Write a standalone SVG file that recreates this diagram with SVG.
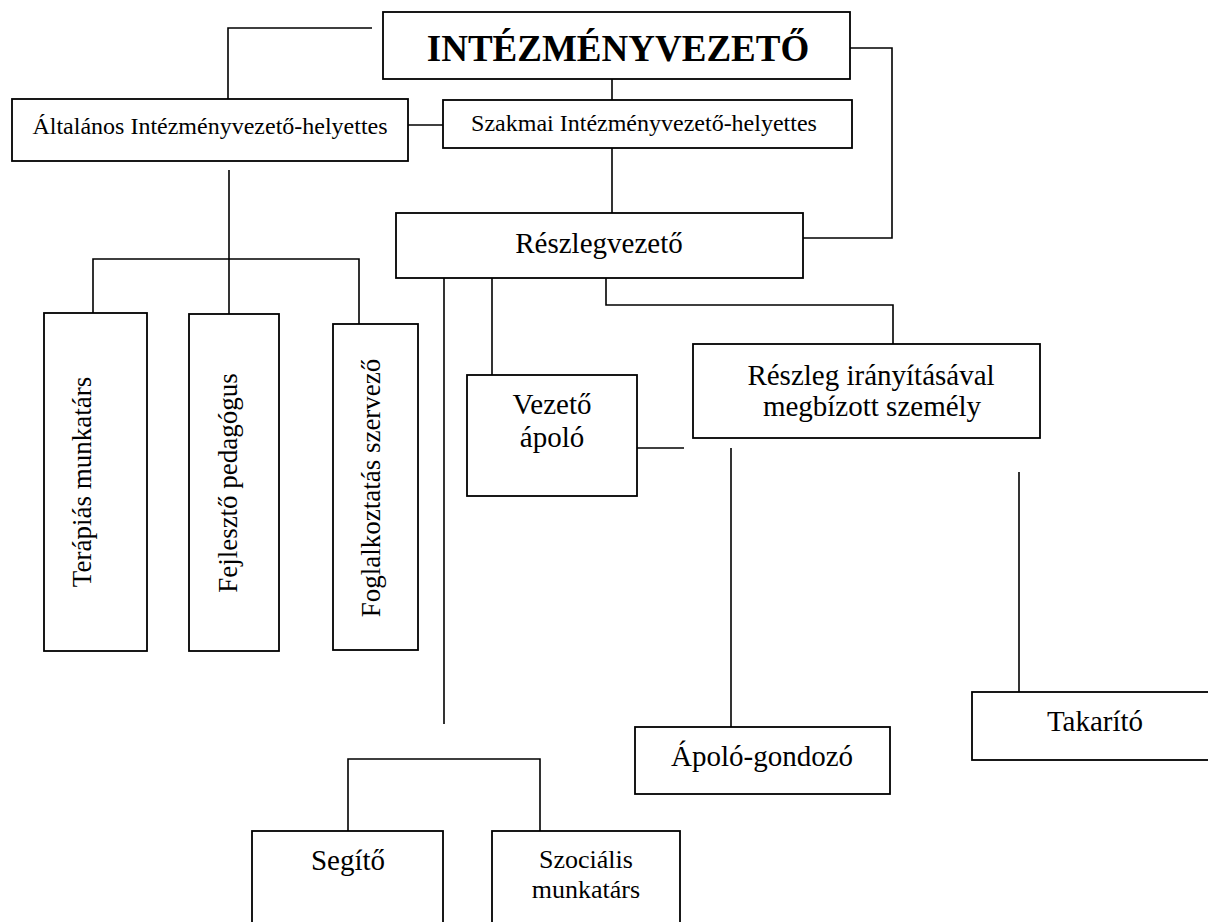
<svg xmlns="http://www.w3.org/2000/svg" width="1208" height="922" viewBox="0 0 1208 922">
<style>
.box{fill:#fff;stroke:#000;stroke-width:1.8}
.ln{fill:none;stroke:#000;stroke-width:1.6}
text{font-family:"Liberation Serif","Times New Roman",serif;fill:#000;text-anchor:middle}
.t{font-size:29px}
.s{font-size:24px}
.m{font-size:26px}
.r{font-size:27px}
.title{font-size:37px;font-weight:bold}
</style>
<rect width="1208" height="922" fill="#fff"/>
<g id="connectors">
<polyline class="ln" points="372,28 228,28 228,99"/>
<line class="ln" x1="398" y1="125" x2="443" y2="125"/>
<line class="ln" x1="612" y1="79" x2="612" y2="100"/>
<polyline class="ln" points="850,48 892,48 892,238 803,238"/>
<line class="ln" x1="612" y1="148" x2="612" y2="220"/>
<line class="ln" x1="229" y1="170" x2="229" y2="318"/>
<polyline class="ln" points="93,318 93,259 359,259 359,329"/>
<line class="ln" x1="444" y1="269" x2="444" y2="724"/>
<polyline class="ln" points="348,831 348,759 540,759 540,831"/>
<line class="ln" x1="492" y1="278" x2="492" y2="375"/>
<polyline class="ln" points="606,273 606,305 893,305 893,344"/>
<line class="ln" x1="637" y1="448" x2="684" y2="448"/>
<line class="ln" x1="731" y1="448" x2="731" y2="735"/>
<line class="ln" x1="1019" y1="472" x2="1019" y2="692"/>
</g>
<g id="intezmenyvezeto">
<rect class="box" x="383" y="12" width="467" height="67"/>
<text class="title" x="618" y="61">INTÉZMÉNYVEZETŐ</text>
</g>
<g id="altalanos">
<rect class="box" x="12" y="99" width="396" height="62"/>
<text class="s" x="210" y="134">Általános Intézményvezető-helyettes</text>
</g>
<g id="szakmai">
<rect class="box" x="443" y="100" width="409" height="48"/>
<text class="s" x="644" y="131">Szakmai Intézményvezető-helyettes</text>
</g>
<g id="reszlegvezeto">
<rect class="box" x="396" y="213" width="407" height="65"/>
<text class="t" x="599" y="253">Részlegvezető</text>
</g>
<g id="terapias">
<rect class="box" x="44" y="313" width="103" height="338"/>
<text class="r" transform="translate(91,482) rotate(-90)">Terápiás munkatárs</text>
</g>
<g id="fejleszto">
<rect class="box" x="189" y="314" width="90" height="337"/>
<text class="r" transform="translate(237,483) rotate(-90)">Fejlesztő pedagógus</text>
</g>
<g id="foglalkoztatas">
<rect class="box" x="333" y="324" width="85" height="326"/>
<text class="r" transform="translate(380,488) rotate(-90)">Foglalkoztatás szervező</text>
</g>
<g id="vezeto-apolo">
<rect class="box" x="467" y="375" width="170" height="121"/>
<text class="t" x="552" y="414">Vezető</text>
<text class="t" x="552" y="447">ápoló</text>
</g>
<g id="reszleg-iranyitas">
<rect class="box" x="693" y="344" width="347" height="94"/>
<text class="t" x="871" y="385">Részleg irányításával</text>
<text class="t" x="872" y="416">megbízott személy</text>
</g>
<g id="apolo-gondozo">
<rect class="box" x="635" y="727" width="255" height="67"/>
<text class="t" x="762" y="766">Ápoló-gondozó</text>
</g>
<g id="takarito">
<rect class="box" x="972" y="692" width="240" height="68"/>
<text class="t" x="1095" y="731">Takarító</text>
</g>
<g id="segito">
<rect class="box" x="252" y="831" width="191" height="100"/>
<text class="t" x="348" y="870">Segítő</text>
</g>
<g id="szocialis">
<rect class="box" x="492" y="831" width="188" height="100"/>
<text class="m" x="586" y="868">Szociális</text>
<text class="m" x="586" y="898">munkatárs</text>
</g>
</svg>
